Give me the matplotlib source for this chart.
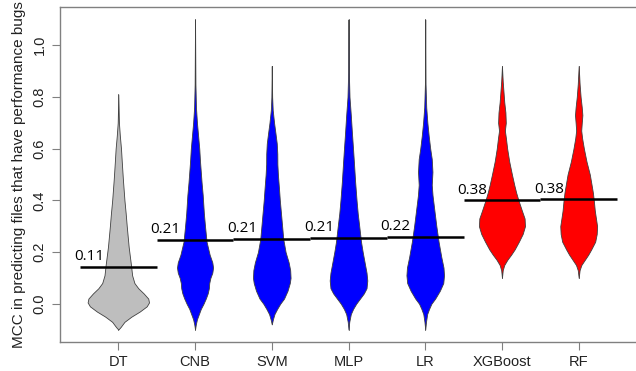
import matplotlib
matplotlib.use("Agg")
import matplotlib.pyplot as plt
import numpy as np

categories = ["DT", "CNB", "SVM", "MLP", "LR", "XGBoost", "RF"]
colors = ["#BEBEBE", "#0000FF", "#0000FF", "#0000FF", "#0000FF", "#FF0000", "#FF0000"]
median_line = [0.143, 0.247, 0.252, 0.256, 0.260, 0.401, 0.404]
median_label = ["0.11", "0.21", "0.21", "0.21", "0.22", "0.38", "0.38"]

# violin outlines: (MCC level, half width of the violin)
dt_y = [-0.10, -0.09, -0.07, -0.05, -0.03, -0.01, 0.005, 0.02, 0.04, 0.06, 0.08, 0.11, 0.15, 0.22, 0.30, 0.35, 0.40, 0.48, 0.55, 0.60, 0.65, 0.70, 0.81]
dt_w = [0.0, 0.03, 0.08, 0.17, 0.28, 0.37, 0.40, 0.39, 0.33, 0.26, 0.21, 0.18, 0.165, 0.135, 0.11, 0.096, 0.08, 0.06, 0.045, 0.035, 0.02, 0.008, 0.0]

cnb_y = [-0.10, -0.08, -0.06, -0.04, -0.02, 0.00, 0.02, 0.04, 0.06, 0.08, 0.10, 0.12, 0.14, 0.16, 0.19, 0.24, 0.30, 0.35, 0.42, 0.47, 0.55, 0.60, 0.65, 0.70, 0.76, 0.85, 1.00, 1.10]
cnb_w = [0.0, 0.01, 0.025, 0.05, 0.075, 0.11, 0.14, 0.165, 0.18, 0.185, 0.20, 0.225, 0.235, 0.225, 0.19, 0.15, 0.13, 0.115, 0.10, 0.085, 0.065, 0.055, 0.04, 0.025, 0.012, 0.005, 0.002, 0.0]

svm_y = [-0.08, -0.06, -0.04, -0.02, 0.00, 0.02, 0.05, 0.08, 0.10, 0.13, 0.16, 0.20, 0.25, 0.30, 0.35, 0.40, 0.45, 0.50, 0.54, 0.58, 0.62, 0.66, 0.70, 0.75, 0.80, 0.92]
svm_w = [0.0, 0.015, 0.035, 0.07, 0.11, 0.16, 0.205, 0.235, 0.245, 0.24, 0.22, 0.18, 0.15, 0.135, 0.12, 0.105, 0.093, 0.08, 0.073, 0.072, 0.065, 0.048, 0.03, 0.012, 0.005, 0.0]

mlp_y = [-0.10, -0.07, -0.04, -0.02, 0.00, 0.02, 0.04, 0.06, 0.09, 0.12, 0.16, 0.20, 0.24, 0.30, 0.35, 0.40, 0.47, 0.55, 0.60, 0.66, 0.73, 0.80, 0.90, 1.10]
mlp_w = [0.0, 0.01, 0.03, 0.06, 0.10, 0.15, 0.20, 0.235, 0.245, 0.235, 0.21, 0.185, 0.163, 0.14, 0.12, 0.105, 0.087, 0.07, 0.059, 0.045, 0.03, 0.013, 0.004, 0.0]

lr_y = [-0.10, -0.07, -0.04, -0.02, 0.00, 0.02, 0.05, 0.08, 0.11, 0.14, 0.18, 0.24, 0.30, 0.35, 0.42, 0.46, 0.51, 0.56, 0.60, 0.65, 0.70, 0.76, 0.85, 1.10]
lr_w = [0.0, 0.01, 0.025, 0.05, 0.08, 0.13, 0.19, 0.235, 0.245, 0.238, 0.21, 0.174, 0.145, 0.124, 0.095, 0.085, 0.094, 0.085, 0.065, 0.045, 0.028, 0.013, 0.004, 0.0]

xgb_y = [0.10, 0.13, 0.15, 0.17, 0.19, 0.21, 0.24, 0.27, 0.30, 0.33, 0.36, 0.40, 0.43, 0.46, 0.50, 0.55, 0.60, 0.64, 0.67, 0.70, 0.74, 0.78, 0.82, 0.86, 0.92]
xgb_w = [0.0, 0.01, 0.03, 0.07, 0.12, 0.165, 0.22, 0.27, 0.30, 0.295, 0.26, 0.215, 0.185, 0.16, 0.13, 0.095, 0.068, 0.052, 0.038, 0.05, 0.045, 0.03, 0.02, 0.01, 0.0]

rf_y = [0.10, 0.13, 0.15, 0.17, 0.19, 0.21, 0.24, 0.27, 0.30, 0.33, 0.36, 0.40, 0.43, 0.46, 0.50, 0.55, 0.60, 0.64, 0.67, 0.70, 0.73, 0.76, 0.80, 0.85, 0.92]
rf_w = [0.0, 0.012, 0.035, 0.08, 0.125, 0.163, 0.215, 0.235, 0.24, 0.225, 0.21, 0.197, 0.185, 0.168, 0.145, 0.102, 0.068, 0.045, 0.033, 0.04, 0.048, 0.04, 0.025, 0.012, 0.0]

profiles = [(dt_y, dt_w), (cnb_y, cnb_w), (svm_y, svm_w), (mlp_y, mlp_w),
            (lr_y, lr_w), (xgb_y, xgb_w), (rf_y, rf_w)]

fig = plt.figure(figsize=(6.36, 3.71), dpi=100)
ax = fig.add_axes([60 / 636, 1 - 342 / 371, 577 / 636, 335 / 371])

for i, ((ys, ws), col) in enumerate(zip(profiles, colors)):
    pos = i + 1
    ys = np.asarray(ys)
    ws = np.asarray(ws)
    ax.fill_betweenx(ys, pos - ws, pos + ws, facecolor=col,
                     edgecolor="#404040", linewidth=0.6, zorder=2)
    ax.plot([pos, pos], [ys[0], ys[-1]], color="#404040", lw=0.5, zorder=1)

for i, (m, lab) in enumerate(zip(median_line, median_label)):
    pos = i + 1
    ax.plot([pos - 0.5, pos + 0.5], [m, m], color="black", lw=1.8,
            solid_capstyle="butt", zorder=3)
    ax.text(pos - 0.58, m + 0.025, lab, ha="left", va="baseline",
            fontsize=11, family=["Open Sans", "DejaVu Sans"], color="black", zorder=4)

ax.set_xlim(0.24, 7.76)
ax.set_ylim(-0.148, 1.148)
ax.set_xticks(range(1, 8))
ax.set_xticklabels(categories, family="Liberation Sans", fontsize=10.5, color="#222222")
ax.set_yticks([0.0, 0.2, 0.4, 0.6, 0.8, 1.0])
ax.set_yticklabels(["0.0", "0.2", "0.4", "0.6", "0.8", "1.0"], family="Liberation Sans",
                   fontsize=10.5, color="#222222", rotation=90, va="center")
ax.tick_params(axis="both", length=5.5, width=0.8, color="#808080", pad=4)
for side in ["top", "bottom", "left"]:
    ax.spines[side].set_color("#808080")
    ax.spines[side].set_linewidth(1.0)
ax.spines["right"].set_visible(False)
ax.set_ylabel("MCC in predicting files that have performance bugs",
              family="Liberation Sans", fontsize=11, color="#222222", labelpad=5)

fig.savefig("out.png", dpi=100)
